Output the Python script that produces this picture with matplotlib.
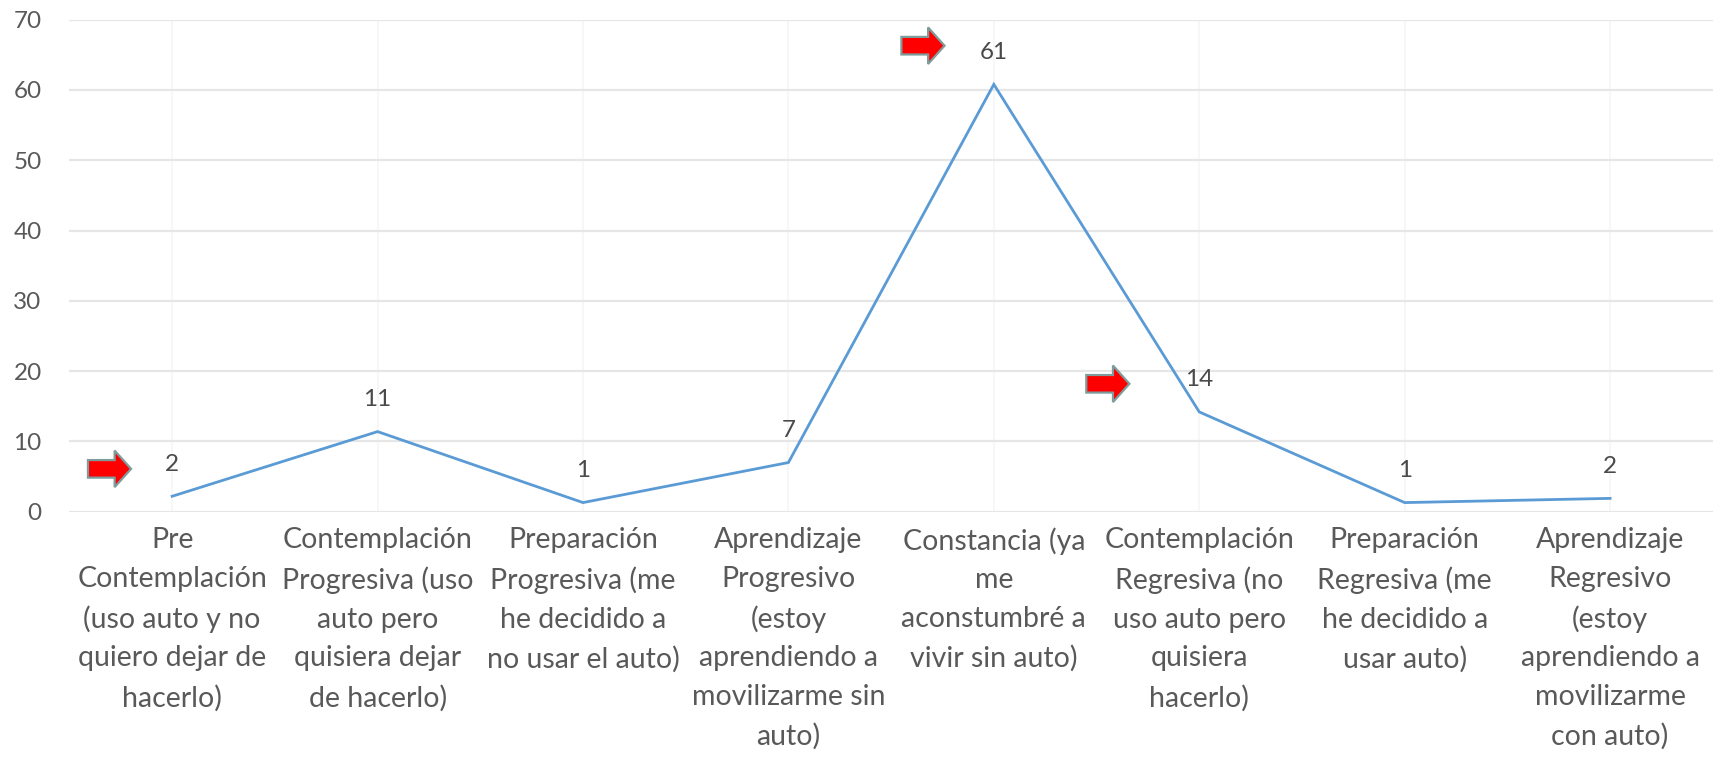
import matplotlib
matplotlib.use("Agg")
import matplotlib.pyplot as plt
from matplotlib.patches import FancyArrow

plt.rcParams['font.family'] = ['Lato', 'DejaVu Sans']

# data
categories = [
    "Pre\nContemplación\n(uso auto y no\nquiero dejar de\nhacerlo)",
    "Contemplación\nProgresiva (uso\nauto pero\nquisiera dejar\nde hacerlo)",
    "Preparación\nProgresiva (me\nhe decidido a\nno usar el auto)",
    "Aprendizaje\nProgresivo\n(estoy\naprendiendo a\nmovilizarme sin\nauto)",
    "Constancia (ya\nme\naconstumbré a\nvivir sin auto)",
    "Contemplación\nRegresiva (no\nuso auto pero\nquisiera\nhacerlo)",
    "Preparación\nRegresiva (me\nhe decidido a\nusar auto)",
    "Aprendizaje\nRegresivo\n(estoy\naprendiendo a\nmovilizarme\ncon auto)",
]
values = [2.2, 11.4, 1.3, 7.0, 60.8, 14.2, 1.3, 1.9]
yticks = [0, 10, 20, 30, 40, 50, 60, 70]

# red arrows: (start x in category units, y value)
arrow_x = [-0.41, 3.55, 4.45]
arrow_y = [6.1, 66.3, 18.2]

fig = plt.figure(figsize=(17.19, 7.57), dpi=100)
ax = fig.add_axes([0.0404, 0.324, 0.9560, 0.650])

x = list(range(len(values)))
ax.plot(x, values, color='#5B9BD5', lw=2.0, solid_joinstyle='miter', zorder=3)

for xi, v in zip(x, values):
    ax.annotate(f"{v:.0f}", (xi, v), xytext=(0, 23), textcoords='offset points',
                ha='center', va='center', fontsize=17.5, color='#4a4a4a')

for ax0, ay in zip(arrow_x, arrow_y):
    ax.add_patch(FancyArrow(ax0, ay, 0.21, 0, width=2.5, head_width=5.2,
                            head_length=0.08, length_includes_head=True,
                            facecolor='#FF0000', edgecolor='#7F9C9C',
                            lw=1.6, zorder=4))

ax.set_xlim(-0.5, len(values) - 0.5)
ax.set_ylim(0, 70)
ax.set_yticks(yticks)
ax.set_xticks(x)
ax.set_xticklabels(categories, fontsize=20.5, color='#595959', linespacing=1.6,
                   va='top')
ax.tick_params(axis='y', labelsize=17.5, labelcolor='#595959', length=0, pad=20)
ax.tick_params(axis='x', length=0, pad=11)

ax.grid(axis='y', color='#e6e6e6', lw=1.6)
ax.grid(axis='x', color='#f6f6f6', lw=1.2)
ax.set_axisbelow(True)
for s in ax.spines.values():
    s.set_visible(False)

fig.savefig("out.png", dpi=100)
